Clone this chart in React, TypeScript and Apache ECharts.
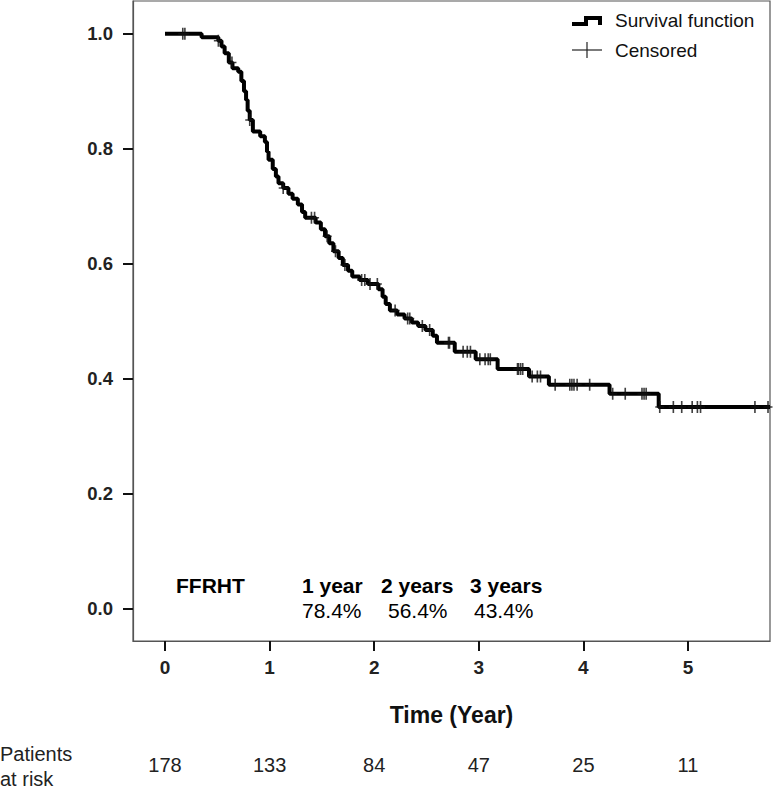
import React, { useEffect, useRef } from "react";
import * as echarts from "echarts";

// Kaplan-Meier step points: time (years) of each event drop and survival after it
const stepTimes = [
  0.35, 0.51, 0.54, 0.57, 0.61, 0.645, 0.70, 0.73, 0.755, 0.775, 0.79, 0.81, 0.84,
  0.91, 0.955, 0.975, 0.99, 1.03, 1.06, 1.085, 1.13, 1.18, 1.22, 1.27, 1.31, 1.34,
  1.44, 1.49, 1.53, 1.57, 1.61, 1.66, 1.70, 1.75, 1.79, 1.86, 1.94, 2.04, 2.08,
  2.11, 2.15, 2.22, 2.29, 2.36, 2.42, 2.49, 2.56, 2.60, 2.77, 2.97, 3.18, 3.48,
  3.67, 4.25, 4.72,
];
const stepSurv = [
  0.994, 0.988, 0.978, 0.966, 0.95, 0.94, 0.934, 0.918, 0.9, 0.885, 0.866, 0.85, 0.83,
  0.822, 0.812, 0.795, 0.781, 0.765, 0.752, 0.74, 0.732, 0.722, 0.713, 0.703, 0.69, 0.68,
  0.672, 0.66, 0.648, 0.636, 0.622, 0.61, 0.598, 0.588, 0.578, 0.572, 0.565, 0.556, 0.543,
  0.53, 0.519, 0.512, 0.505, 0.498, 0.492, 0.485, 0.475, 0.463, 0.447, 0.434, 0.417, 0.404,
  0.39, 0.374, 0.351,
];
const lastTime = 5.784;

// Censored observation times (years)
const censorTimes = [
  0.17, 0.19, 0.51, 0.64, 0.81, 1.13, 1.4, 1.43, 1.55, 1.63, 1.72, 1.88, 1.91, 1.96,
  2.03, 2.2, 2.32, 2.34, 2.46, 2.53, 2.71, 2.72, 2.85, 2.89, 2.92, 3.01, 3.06, 3.09,
  3.11, 3.37, 3.38, 3.4, 3.42, 3.51, 3.56, 3.59, 3.73, 3.87, 3.89, 3.91, 3.94, 4.06,
  4.28, 4.4, 4.56, 4.58, 4.6, 4.73, 4.86, 4.94, 5.04, 5.09, 5.12, 5.64, 5.765,
];

const xTicks = [0, 1, 2, 3, 4, 5];
const yTicks = [0, 0.2, 0.4, 0.6, 0.8, 1.0];
const atRisk = [178, 133, 84, 47, 25, 11];

const summaryHeaders = ["1 year", "2 years", "3 years"];
const summaryValues = ["78.4%", "56.4%", "43.4%"];
const groupName = "FFRHT";

const FONT = "'Liberation Sans', Arial, Helvetica, sans-serif";

function survAt(t: number): number {
  let s = 1;
  for (let i = 0; i < stepTimes.length; i++) {
    if (stepTimes[i] <= t) s = stepSurv[i];
  }
  return s;
}

export default function App() {
  const ref = useRef<HTMLDivElement>(null);

  useEffect(() => {
    if (!ref.current) return;
    const chart = echarts.init(ref.current, undefined, { renderer: "svg" });

    const lineData: number[][] = [[0, 1]];
    stepTimes.forEach((t, i) => lineData.push([t, stepSurv[i]]));
    lineData.push([lastTime, stepSurv[stepSurv.length - 1]]);

    const censorData = censorTimes.map((t) => [t, survAt(t)]);

    const xMin = -0.306;
    const xMax = 5.784;
    const yMin = -0.0557;
    const yMax = 1.057;

    const plusPath = "path://M41,0H59V44H100V56H59V100H41V56H0V44H41Z";

    chart.setOption({
      animation: false,
      backgroundColor: "#ffffff",
      grid: {
        left: 133,
        right: 4,
        top: 1,
        bottom: 149,
        show: true,
        borderColor: "#555",
        borderWidth: 1.2,
        outerBoundsMode: "none",
        containLabel: false,
      },
      xAxis: [
        {
          type: "value",
          min: xMin,
          max: xMax,
          splitLine: { show: false },
          axisLine: { show: true, onZero: false, lineStyle: { color: "#555", width: 1.2 } },
          axisTick: {
            show: true,
            customValues: xTicks,
            length: 10,
            inside: false,
            lineStyle: { color: "#111", width: 2 },
          },
          axisLabel: {
            customValues: xTicks,
            margin: 17,
            fontFamily: FONT,
            fontWeight: "bold",
            fontSize: 19,
            color: "#222",
            formatter: (v: number) => String(v),
          },
          name: "Time (Year)",
          nameLocation: "middle",
          nameGap: 62,
          nameTextStyle: {
            fontFamily: FONT,
            fontWeight: "bold",
            fontSize: 23,
            color: "#111",
          },
        },
        {
          type: "value",
          min: xMin,
          max: xMax,
          position: "bottom",
          offset: 114,
          splitLine: { show: false },
          axisLine: { show: false, onZero: false },
          axisTick: { show: false },
          axisLabel: {
            customValues: xTicks,
            margin: 0,
            fontFamily: FONT,
            fontSize: 20,
            color: "#222",
            formatter: (v: number) => {
              const i = xTicks.indexOf(Math.round(v));
              return i >= 0 ? String(atRisk[i]) : "";
            },
          },
        },
      ],
      yAxis: {
        type: "value",
        min: yMin,
        max: yMax,
        splitLine: { show: false },
        axisLine: { show: true, onZero: false, lineStyle: { color: "#555", width: 1.2 } },
        axisTick: {
          show: true,
          customValues: yTicks,
          length: 10,
          inside: false,
          lineStyle: { color: "#111", width: 2 },
        },
        axisLabel: {
          customValues: yTicks,
          margin: 20,
          fontFamily: FONT,
          fontWeight: "bold",
          fontSize: 18.5,
          color: "#222",
          formatter: (v: number) => v.toFixed(1),
        },
      },
      series: [
        {
          name: "Survival function",
          type: "line",
          xAxisIndex: 0,
          step: "end",
          data: lineData,
          showSymbol: false,
          symbol: "none",
          lineStyle: { color: "#000", width: 4 },
          z: 3,
        },
        {
          name: "Censored",
          type: "scatter",
          xAxisIndex: 0,
          data: censorData,
          symbol: plusPath,
          symbolSize: [9, 12],
          itemStyle: { color: "#111" },
          z: 4,
        },
      ],
      graphic: [
        // legend
        {
          type: "polyline",
          shape: { points: [[572, 24], [586, 24], [586, 18], [600, 18], [600, 25]] },
          style: { stroke: "#000", lineWidth: 4, fill: "none" },
        },
        {
          type: "text",
          x: 615,
          y: 20,
          style: {
            text: "Survival function",
            fontFamily: FONT,
            fontSize: 19,
            fill: "#111",
            verticalAlign: "middle",
          },
        },
        {
          type: "line",
          shape: { x1: 572, y1: 50, x2: 602, y2: 50 },
          style: { stroke: "#222", lineWidth: 1.2 },
        },
        {
          type: "line",
          shape: { x1: 587, y1: 42, x2: 587, y2: 58 },
          style: { stroke: "#222", lineWidth: 1.2 },
        },
        {
          type: "text",
          x: 615,
          y: 50,
          style: {
            text: "Censored",
            fontFamily: FONT,
            fontSize: 19,
            fill: "#111",
            verticalAlign: "middle",
          },
        },
        // summary table
        {
          type: "text",
          x: 176,
          y: 585,
          style: {
            text: groupName,
            fontFamily: FONT,
            fontWeight: "bold",
            fontSize: 21,
            fill: "#000",
            verticalAlign: "middle",
          },
        },
        ...summaryHeaders.map((h, i) => ({
          type: "text",
          x: [302, 381, 470][i],
          y: 585,
          style: {
            text: h,
            fontFamily: FONT,
            fontWeight: "bold",
            fontSize: 21,
            fill: "#000",
            verticalAlign: "middle",
          },
        })),
        ...summaryValues.map((v, i) => ({
          type: "text",
          x: [302, 388, 474][i],
          y: 610,
          style: {
            text: v,
            fontFamily: FONT,
            fontSize: 21,
            fill: "#000",
            verticalAlign: "middle",
          },
        })),
        {
          type: "text",
          x: 0,
          y: 741,
          style: {
            text: "Patients\nat risk",
            fontFamily: FONT,
            fontSize: 20,
            lineHeight: 25,
            fill: "#222",
          },
        },
      ],
    });

    return () => chart.dispose();
  }, []);

  return (
    <div
      ref={ref}
      style={{ position: "fixed", left: 0, top: 0, width: 774, height: 790, background: "#fff" }}
    />
  );
}
